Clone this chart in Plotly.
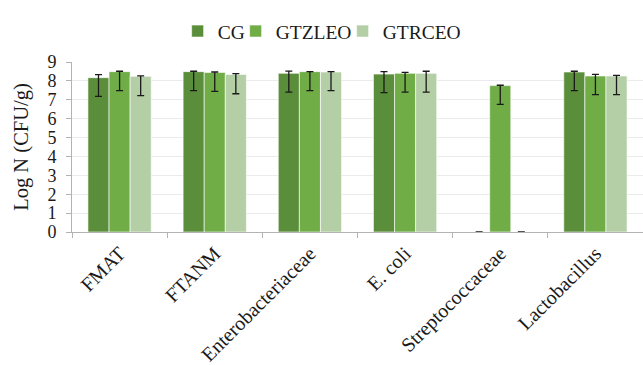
import plotly.graph_objects as go

# Microbial counts (log CFU/g) per group, with asymmetric error ranges
categories = ["FMAT", "FTANM", "Enterobacteriaceae", "E. coli", "Streptococcaceae", "Lactobacillus"]
groups = ["CG", "GTZLEO", "GTRCEO"]

cg = [8.17, 8.49, 8.40, 8.36, 0.0, 8.47]
gtzleo = [8.49, 8.45, 8.49, 8.40, 7.75, 8.26]
gtrceo = [8.24, 8.34, 8.47, 8.40, 0.0, 8.26]

cg_plus = [0.16, 0.02, 0.12, 0.13, 0.0, 0.04]
cg_minus = [0.99, 1.01, 1.00, 0.98, 0.0, 0.99]
gtzleo_plus = [0.02, 0.02, 0.0, 0.05, 0.02, 0.09]
gtzleo_minus = [1.01, 1.00, 1.01, 0.99, 0.99, 0.99]
gtrceo_plus = [0.03, 0.04, 0.02, 0.11, 0.0, 0.03]
gtrceo_minus = [1.02, 1.02, 0.99, 1.00, 0.0, 0.99]

colors = ["#5B8E3A", "#70AD47", "#B4CFA6"]
values = [cg, gtzleo, gtrceo]
plus = [cg_plus, gtzleo_plus, gtrceo_plus]
minus = [cg_minus, gtzleo_minus, gtrceo_minus]
# legend entry widths (px) so the entries sit close together
legend_widths = [13, 62, 76]

font_family = "Liberation Serif, Times New Roman, serif"
axis_gray = "#B3B3B3"
text_color = "#1a1a1a"

fig = go.Figure()
for name, vals, col, ep, em, lw in zip(groups, values, colors, plus, minus, legend_widths):
    fig.add_trace(go.Bar(
        name=name,
        x=categories,
        y=vals,
        legendwidth=lw,
        marker=dict(color=col, line=dict(color="rgba(255,255,255,0.8)", width=0.75)),
        error_y=dict(type="data", symmetric=False, array=ep, arrayminus=em,
                     color=text_color, thickness=1.3, width=3.5),
    ))

fig.update_layout(
    width=643,
    height=365,
    margin=dict(l=72, r=0, t=62, b=133, autoexpand=False),
    paper_bgcolor="white",
    plot_bgcolor="white",
    barmode="group",
    bargap=0.335,
    bargroupgap=0,
    font=dict(family=font_family, color=text_color, size=18),
    legend=dict(
        orientation="h",
        x=0.185, xanchor="left",
        y=1.18, yanchor="middle",
        font=dict(size=19.5, family=font_family, color=text_color),
        itemwidth=30,
        tracegroupgap=0,
    ),
    showlegend=True,
)

fig.update_yaxes(
    range=[0, 9],
    dtick=1,
    showgrid=True,
    gridcolor="#EBEBEB",
    gridwidth=1,
    showline=True,
    linecolor=axis_gray,
    linewidth=1,
    ticks="outside",
    ticklen=5,
    tickcolor=axis_gray,
    tickfont=dict(size=18, family=font_family, color=text_color),
    ticklabelstandoff=6,
    zeroline=False,
    automargin=False,
    title=dict(text="Log N (CFU/g)", font=dict(size=20.5, family=font_family, color=text_color),
               standoff=13),
)

fig.update_xaxes(
    showline=True,
    linecolor=axis_gray,
    linewidth=1,
    ticks="outside",
    tickson="boundaries",
    ticklen=5,
    tickcolor=axis_gray,
    tickangle=-45,
    ticklabelstandoff=1,
    automargin=False,
    tickfont=dict(size=20, family=font_family, color=text_color),
)

fig.write_html("out.html")
